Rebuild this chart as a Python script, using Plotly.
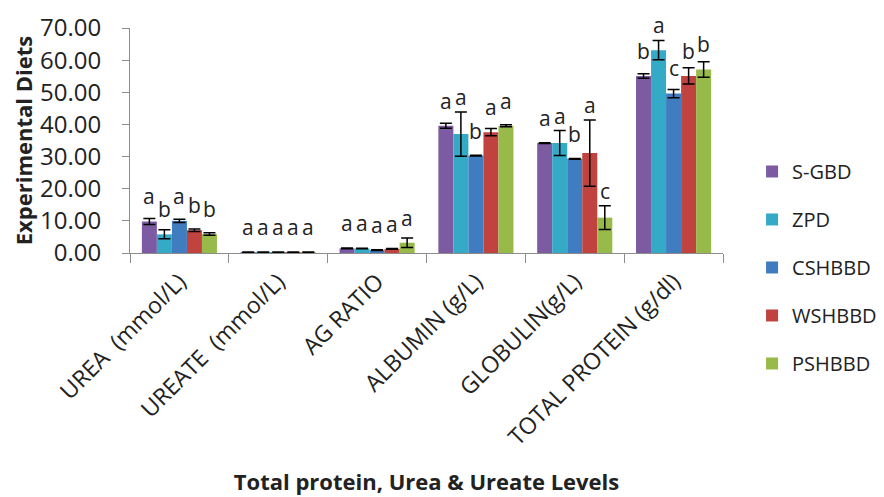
import plotly.graph_objects as go

categories = ["UREA  (mmol/L)", "UREATE  (mmol/L)", "AG RATIO", "ALBUMIN (g/L)",
              "GLOBULIN(g/L)", "TOTAL PROTEIN (g/dl)"]
series_names = ["S-GBD", "ZPD", "CSHBBD", "WSHBBD", "PSHBBD"]

sgbd = [9.8, 0.3, 1.45, 39.6, 34.2, 55.1]
zpd = [5.8, 0.3, 1.4, 37.0, 34.2, 63.1]
cshbbd = [10.0, 0.3, 0.9, 30.3, 29.3, 49.6]
wshbbd = [7.1, 0.3, 1.3, 37.6, 31.1, 55.1]
pshbbd = [5.9, 0.3, 3.2, 39.6, 11.0, 57.1]

sgbd_err = [0.9, 0.05, 0.1, 0.8, 0.1, 0.7]
zpd_err = [1.4, 0.05, 0.1, 6.9, 3.9, 3.0]
cshbbd_err = [0.5, 0.05, 0.1, 0.1, 0.1, 1.3]
wshbbd_err = [0.4, 0.05, 0.1, 1.1, 10.3, 2.5]
pshbbd_err = [0.4, 0.05, 1.5, 0.3, 3.7, 2.4]

sgbd_lbl = ["a", "a", "a", "a", "a", "b"]
zpd_lbl = ["b", "a", "a", "a", "a", "a"]
cshbbd_lbl = ["a", "a", "a", "b", "b", "c"]
wshbbd_lbl = ["b", "a", "a", "a", "a", "b"]
pshbbd_lbl = ["b", "a", "a", "a", "c", "b"]

colors = ["#7D5BA3", "#35AAC7", "#3F7CC0", "#C0433F", "#97BA4B"]

values = [sgbd, zpd, cshbbd, wshbbd, pshbbd]
errors = [sgbd_err, zpd_err, cshbbd_err, wshbbd_err, pshbbd_err]
labels = [sgbd_lbl, zpd_lbl, cshbbd_lbl, wshbbd_lbl, pshbbd_lbl]

FONT = "Open Sans"
TXT = "#222222"
W, H = 884, 497
ML, MR, MT, MB = 122, 169, 20, 252
BARGAP = 0.24
YMAX = 70
plot_w = W - ML - MR
plot_h = H - MT - MB
bar_px = plot_w / len(categories) * (1 - BARGAP) / len(series_names)
px_per_unit = plot_h / YMAX

fig = go.Figure()
for name, v, e, c in zip(series_names, values, errors, colors):
    fig.add_trace(go.Bar(
        x=categories, y=v, name=name, legendgroup=name,
        marker=dict(color=c, line=dict(width=0)),
        error_y=dict(type="data", array=e, visible=True, color="black",
                     thickness=1.5, width=6),
    ))

annotations = []
n = len(series_names)
for j, (v, e, l) in enumerate(zip(values, errors, labels)):
    for cat, vi, ei, li in zip(categories, v, e, l):
        lift = max(7.8, ei + 4.5)
        annotations.append(dict(
            x=cat, y=vi, xref="x", yref="y",
            xshift=(j - (n - 1) / 2) * bar_px, yshift=lift * px_per_unit,
            text=li, showarrow=False,
            font=dict(family=FONT, size=21, color=TXT),
            xanchor="center", yanchor="middle",
        ))

fig.update_layout(
    width=W, height=H,
    barmode="group", bargap=BARGAP, bargroupgap=0,
    plot_bgcolor="white", paper_bgcolor="white",
    margin=dict(l=ML, r=MR, t=MT, b=MB, autoexpand=False),
    font=dict(family=FONT, color=TXT),
    annotations=annotations,
    legend=dict(x=1.049, y=0.449, xanchor="left", yanchor="top",
                font=dict(family=FONT, size=20, color=TXT), tracegroupgap=19,
                itemwidth=30, bgcolor="rgba(0,0,0,0)", maxheight=1),
    showlegend=True,
)
fig.update_yaxes(range=[0, YMAX], dtick=10, tickformat=".2f",
                 showgrid=False, showline=True, linecolor="#8c8c8c", linewidth=1,
                 ticks="outside", ticklen=7, tickcolor="#8c8c8c",
                 ticklabelstandoff=16, automargin=False,
                 tickfont=dict(family=FONT, size=24, color=TXT),
                 title=dict(text="<b>Experimental Diets</b>",
                            font=dict(family=FONT, size=22, color=TXT), standoff=6),
                 zeroline=False)
fig.update_xaxes(showgrid=False, showline=True, linecolor="#8c8c8c", linewidth=1,
                 ticks="outside", ticklen=9, tickcolor="#8c8c8c", tickson="boundaries",
                 tickangle=-45, ticklabelstandoff=5, automargin=False,
                 tickfont=dict(family=FONT, size=23, color=TXT),
                 title=dict(text="<b>Total protein, Urea &amp; Ureate Levels</b>",
                            font=dict(family=FONT, size=22, color=TXT), standoff=23))

fig.write_html("out.html")
